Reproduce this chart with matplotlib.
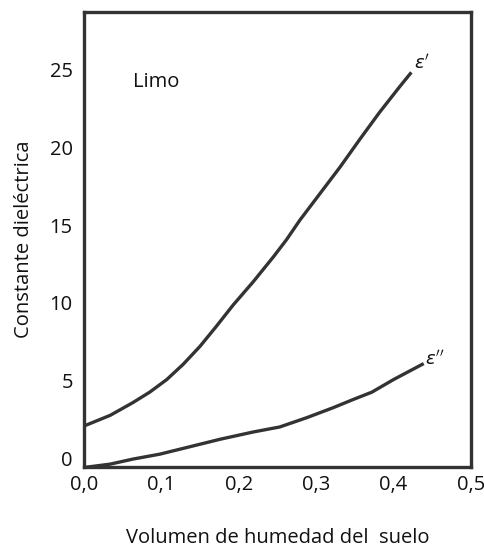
import matplotlib
matplotlib.use("Agg")
import matplotlib.pyplot as plt

# Soil moisture (volumetric fraction) and dielectric constant of silt
eps_real_x = [0.0, 0.034, 0.063, 0.085, 0.107, 0.128, 0.150, 0.171, 0.193, 0.219,
              0.245, 0.262, 0.279, 0.305, 0.331, 0.357, 0.382, 0.408, 0.423]
eps_real_y = [2.07, 2.76, 3.57, 4.25, 5.06, 6.03, 7.2, 8.48, 9.87, 11.37,
              12.97, 14.08, 15.32, 17.03, 18.74, 20.56, 22.26, 23.91, 24.83]

eps_imag_x = [0.0, 0.034, 0.063, 0.098, 0.133, 0.176, 0.219, 0.253, 0.288, 0.322,
              0.348, 0.372, 0.4, 0.439]
eps_imag_y = [-0.6, -0.38, -0.06, 0.26, 0.69, 1.22, 1.69, 2.01, 2.61, 3.25,
              3.78, 4.25, 5.06, 6.09]

x_ticks = [0.0, 0.1, 0.2, 0.3, 0.4, 0.5]
x_tick_labels = ["0,0", "0,1", "0,2", "0,3", "0,4", "0,5"]
y_ticks = [0, 5, 10, 15, 20, 25]
y_tick_labels = ["0", "5", "10", "15", "20", "25"]

plt.rcParams["font.family"] = ["Open Sans", "DejaVu Sans"]

fig = plt.figure(figsize=(4.85, 5.55), dpi=100)
ax = fig.add_axes([0.173, 0.159, 0.798, 0.819])

line_color = "#333333"
ax.plot(eps_real_x, eps_real_y, color=line_color, lw=2.4,
        solid_capstyle="butt", solid_joinstyle="round")
ax.plot(eps_imag_x, eps_imag_y, color=line_color, lw=2.4,
        solid_capstyle="butt", solid_joinstyle="round")

ax.set_xlim(0.0, 0.5)
ax.set_ylim(-0.55, 28.7)
ax.set_xticks(x_ticks)
ax.set_xticklabels(x_tick_labels)
ax.set_yticks(y_ticks)
ax.set_yticklabels(y_tick_labels)
ax.tick_params(length=0, labelsize=14.5, colors="#111111")
ax.tick_params(axis="x", pad=6)
ax.tick_params(axis="y", pad=8)

for s in ax.spines.values():
    s.set_linewidth(2.4)
    s.set_color(line_color)

ax.text(0.063, 24.2, "Limo", fontsize=14.5, va="center", ha="left", color="#111111")
ax.text(0.427, 25.4, r"$\varepsilon'$", fontsize=13, ha="left", va="center", color="#111111")
ax.text(0.441, 6.4, r"$\varepsilon''$", fontsize=13, ha="left", va="center", color="#111111")

ax.set_xlabel("Volumen de humedad del  suelo", fontsize=14.5, labelpad=24, color="#111111")
ax.set_ylabel("Constante dieléctrica", fontsize=14.5, labelpad=11, color="#111111")

fig.savefig("out.png", dpi=100)
